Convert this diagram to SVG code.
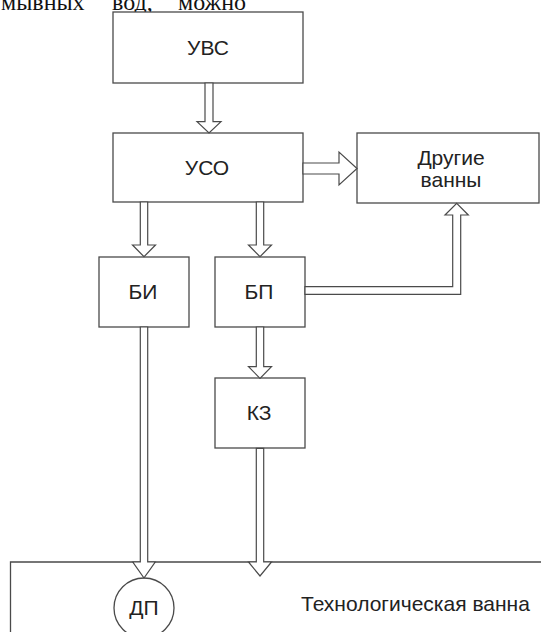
<svg xmlns="http://www.w3.org/2000/svg" width="541" height="632" viewBox="0 0 541 632">
<style>
.box{fill:#fff;stroke:#4a4a4a;stroke-width:1.3}
.arr{fill:#fff;stroke:#4a4a4a;stroke-width:1.2;stroke-linejoin:miter}
.lbl{font-family:"Liberation Sans",Arial,sans-serif;font-size:21px;fill:#222;text-anchor:middle}
.serif{font-family:"Liberation Serif","Times New Roman",serif;font-size:24px;fill:#111}
</style>
<rect width="541" height="632" fill="#fff"/>
<g id="header-text">
<text class="serif" x="1" y="10">мывных</text>
<text class="serif" x="112" y="10">вод,</text>
<text class="serif" x="178" y="10">можно</text>
</g>
<g id="bath">
<path class="box" d="M10.5,632 V562 H541" fill="none"/>
<text class="lbl" x="301" y="611" style="text-anchor:start">Технологическая ванна</text>
</g>
<g id="uvs">
<rect class="box" x="113" y="12" width="190" height="71"/>
<text class="lbl" x="208" y="55">УВС</text>
</g>
<g id="uso">
<rect class="box" x="113" y="133" width="190" height="69"/>
<text class="lbl" x="207" y="175">УСО</text>
</g>
<g id="other">
<rect class="box" x="357" y="133" width="182" height="70"/>
<text class="lbl" x="451" y="165">Другие</text>
<text class="lbl" x="451" y="187">ванны</text>
</g>
<g id="bi">
<rect class="box" x="99" y="257" width="90" height="70"/>
<text class="lbl" x="143" y="299">БИ</text>
</g>
<g id="bp">
<rect class="box" x="215" y="257" width="90" height="70"/>
<text class="lbl" x="259" y="299">БП</text>
</g>
<g id="kz">
<rect class="box" x="215" y="378" width="90" height="70"/>
<text class="lbl" x="259" y="420">КЗ</text>
</g>
<g id="dp">
<circle class="box" cx="144" cy="608" r="30"/>
<text class="lbl" x="144" y="615">ДП</text>
</g>
<g id="connectors">
<path class="arr" d="M205,83 V121.7 H197 L209,133 L221,121.7 H213 V83 Z"/>
<path class="arr" d="M303,163 H339 V152 L357,168.5 L339,185 V174 H303 Z"/>
<path class="arr" d="M140.3,202 V245 H132.5 L144,256.7 L155.5,245 H147.7 V202 Z"/>
<path class="arr" d="M256.3,202 V245 H248.5 L260,256.7 L271.5,245 H263.7 V202 Z"/>
<path class="arr" d="M305,294.3 H460.7 V215 H468.3 L456.7,203.3 L445,215 H452.7 V286.7 H305 Z"/>
<path class="arr" d="M256.3,327 V366.7 H248.5 L260,378.3 L271.5,366.7 H263.7 V327 Z"/>
<path class="arr" d="M140.3,327 V562 H132.8 L144,578 L155.2,562 H147.7 V327 Z"/>
<path class="arr" d="M256.3,448.3 V562 H248.5 L260,576 L271.5,562 H263.7 V448.3 Z"/>
</g>
</svg>
